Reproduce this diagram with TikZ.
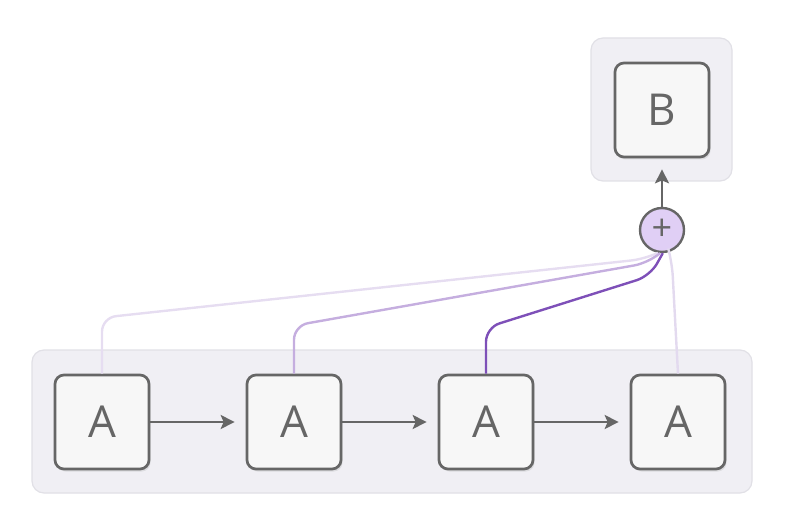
\documentclass[tikz,border=0pt]{standalone}
\usepackage{fontspec}
\setmainfont{Open Sans}
\usetikzlibrary{arrows.meta,shadows}
\definecolor{grpfill}{HTML}{F0EFF4}
\definecolor{grpline}{HTML}{E1E0E6}
\definecolor{boxfill}{HTML}{F7F7F7}
\definecolor{boxline}{HTML}{666666}
\definecolor{shade}{HTML}{DCDCDF}
\definecolor{plusfill}{HTML}{E0CFF5}
\definecolor{lavA}{HTML}{E6DDF1}
\definecolor{lavB}{HTML}{C5AEDF}
\definecolor{lavC}{HTML}{7E50B8}
\definecolor{lavD}{HTML}{E3DAEF}
\tikzset{
  grp/.style={draw=grpline, fill=grpfill, line width=1.2pt, rounded corners=12pt, inner sep=0pt},
  unit/.style={draw=boxline, fill=boxfill, line width=2.7pt, rounded corners=9pt,
    minimum size=94pt, inner sep=0pt, text=boxline, font=\fontsize{44}{44}\selectfont,
    drop shadow={shadow xshift=1.5pt, shadow yshift=-2.5pt, fill=shade, opacity=1}},
  sum/.style={circle, draw=boxline, fill=plusfill, line width=2.4pt, minimum size=44pt,
    inner sep=0pt, text=boxline, font=\fontsize{36}{36}\selectfont},
  flow/.style={-{Stealth[length=14pt,width=14pt,inset=3pt]}, line width=2.3pt, draw=boxline, shorten >=11pt},
  lnk/.style={line width=2.4pt, rounded corners=14pt}
}

\begin{document}
\begin{tikzpicture}[x=1pt, y=-1pt]
  \useasboundingbox (0,0) rectangle (793,532);
  % groups
  \node[grp, minimum width=720pt, minimum height=143pt] (row) at (392,421.5) {};
  \node[grp, minimum width=141pt, minimum height=143pt] (top) at (661.5,109.5) {};

  \node[unit] (a1) at (102,422) {A};
  \node[unit] (a2) at (294,422) {A};
  \node[unit] (a3) at (486,422) {A};
  \node[unit] (a4) at (678,422) {A};
  \node[unit] (b) at (662,110) {B};

  \draw[flow] (a1.east) -- (a2.west);
  \draw[flow] (a2.east) -- (a3.west);
  \draw[flow] (a3.east) -- (a4.west);

  \node[sum] (plus) at (662,230) {+};

  % weighted links into the sum
  \draw[lnk, draw=lavA] (a1.north) -- ++(0,-56) -- (645,259) -- (plus.-100);
  \draw[lnk, draw=lavB] (a2.north) -- ++(0,-48) -- (648,263) -- (plus.-95);
  \draw[lnk, draw=lavC] (a3.north) -- ++(0,-46) -- (650,276) -- (plus.-88);
  \draw[lnk, draw=lavD] (a4.north) -- (672,262) -- (plus.-72);

  \draw[flow] (plus.north) -- (b.south);
\end{tikzpicture}
\end{document}
